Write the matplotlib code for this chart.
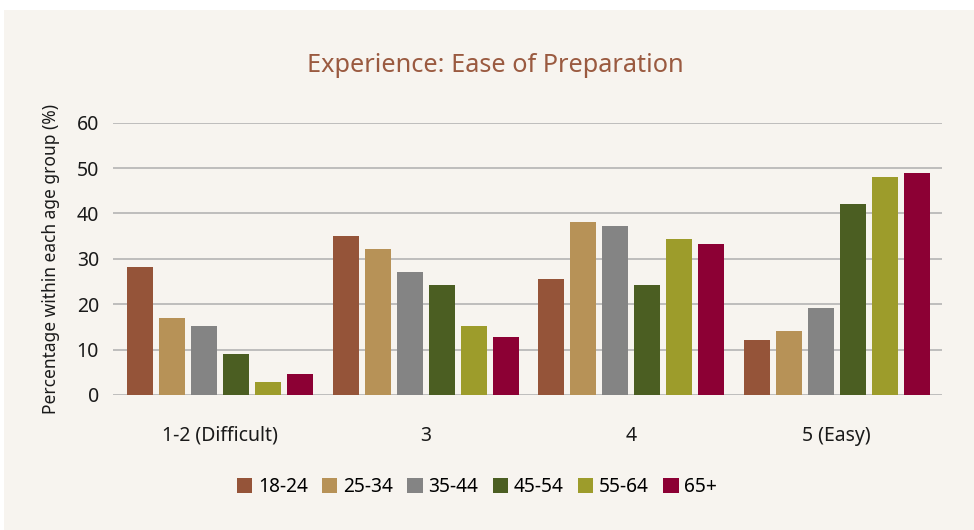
import matplotlib
matplotlib.use("Agg")
import matplotlib.pyplot as plt
import numpy as np
from matplotlib.patches import Rectangle

plt.rcParams['font.family'] = ['Noto Sans', 'DejaVu Sans']

categories = ['1-2 (Difficult)', '3', '4', '5 (Easy)']
age_groups = ['18-24', '25-34', '35-44', '45-54', '55-64', '65+']
colors = ['#955439', '#b79257', '#848484', '#4b5e22', '#9d9c2b', '#8c0034']

v_18_24 = [28.2, 35.0, 25.6, 12.1]
v_25_34 = [17.0, 32.1, 38.1, 14.1]
v_35_44 = [15.2, 27.1, 37.2, 19.2]
v_45_54 = [9.0, 24.2, 24.2, 42.1]
v_55_64 = [2.9, 15.2, 34.4, 48.0]
v_65p = [4.6, 12.8, 33.3, 48.9]
series = [v_18_24, v_25_34, v_35_44, v_45_54, v_55_64, v_65p]

bg = '#f7f4ef'
fig = plt.figure(figsize=(9.74, 5.30), dpi=100)
fig.patch.set_facecolor('white')
fig.patches.append(Rectangle((4 / 974, 0), 1, 1 - 10 / 530, transform=fig.transFigure,
                             facecolor=bg, edgecolor='none', zorder=-10))

ax = fig.add_axes([113 / 974, 1 - 395 / 530, 829 / 974, (395 - 122.7) / 530])
ax.set_facecolor(bg)

x = np.arange(len(categories))
step = 0.1557
width = 0.1265
for i, (vals, col, lab) in enumerate(zip(series, colors, age_groups)):
    ax.bar(x + (i - 2.5) * step, vals, width, color=col, label=lab, zorder=3)

ax.set_xlim(-0.521, 3.513)
ax.set_ylim(0, 60)
ax.set_yticks(range(0, 61, 10))
ax.yaxis.grid(True, color='#b4b4b4', linewidth=1.2, zorder=0)
ax.set_axisbelow(True)
for s in ax.spines.values():
    s.set_visible(False)
ax.tick_params(axis='y', length=0, labelsize=14, colors='#1a1a1a', pad=10)
ax.tick_params(axis='x', length=0, labelsize=14, colors='#1a1a1a', pad=22)
ax.set_xticks(x)
ax.set_xticklabels(categories)
ax.set_ylabel('Percentage within each age group (%)', fontsize=12.5, color='#1a1a1a', labelpad=12)

fig.text(495 / 974, 1 - 65 / 530, 'Experience: Ease of Preparation', ha='center', va='center',
         fontsize=18.2, color='#9a5a40')

fig.legend(loc='center', bbox_to_anchor=(477 / 974, 1 - 487 / 530), ncol=6, frameon=False,
           fontsize=13.8, handlelength=0.8, handleheight=0.8, handletextpad=0.3,
           columnspacing=0.75)

fig.savefig('out.png', dpi=100, facecolor=fig.get_facecolor())
